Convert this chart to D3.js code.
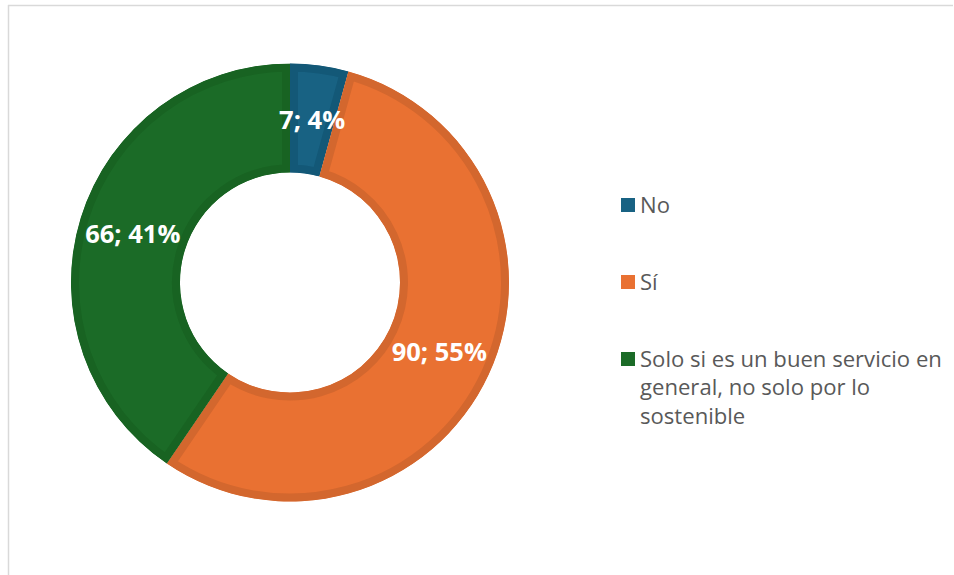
<!DOCTYPE html>
<html>
<head>
<meta charset="utf-8">
<script src="https://cdn.jsdelivr.net/npm/d3@7/dist/d3.min.js"></script>
<style>
  html, body { margin: 0; padding: 0; background: #fff; }
  svg { display: block; }
</style>
</head>
<body>
<svg id="chart" width="954" height="575"></svg>
<script>
// Answer categories and counts
const categories = ["No", "Sí", "Solo si es un buen servicio en general, no solo por lo sostenible"];
const counts = [7, 90, 66];
// Legend text, wrapped as shown
const legendLines = [["No"], ["Sí"], ["Solo si es un buen servicio en", "general, no solo por lo", "sostenible"]];
const fillColors = ["#186283", "#E97132", "#1B6B27"];
const edgeColors = ["#135877", "#D3672E", "#186322"];

const svg = d3.select("#chart");
const cx = 290, cy = 282.5, rOuter = 219, rInner = 110;

// Chart area frame (top and left edges)
svg.append("line").attr("x1", 8).attr("x2", 953).attr("y1", 5.5).attr("y2", 5.5)
  .attr("stroke", "#d9d9d9").attr("stroke-width", 1.5);
svg.append("line").attr("x1", 8.5).attr("x2", 8.5).attr("y1", 5).attr("y2", 575)
  .attr("stroke", "#d9d9d9").attr("stroke-width", 1.5);

// Whole-number percentages that add up to 100 (largest remainder)
const total = d3.sum(counts);
const raw = counts.map(v => v / total * 100);
const pct = raw.map(Math.floor);
let left = 100 - d3.sum(pct);
raw.map((r, i) => ({ i, rem: r - Math.floor(r) }))
  .sort((a, b) => b.rem - a.rem)
  .forEach(o => { if (left > 0) { pct[o.i] += 1; left--; } });

const data = categories.map((c, i) => ({ name: c, value: counts[i], pct: pct[i], i }));
const pie = d3.pie().value(d => d.value).sort(null);
const arcs = pie(data);
const arc = d3.arc().innerRadius(rInner).outerRadius(rOuter);
const labelArc = d3.arc().innerRadius((rInner + rOuter) / 2).outerRadius((rInner + rOuter) / 2);

const g = svg.append("g").attr("transform", `translate(${cx},${cy})`);
const defs = svg.append("defs");

arcs.forEach((a, k) => {
  const id = "clip-" + k;
  defs.append("clipPath").attr("id", id).append("path").attr("d", arc(a));
  g.append("path")
    .attr("d", arc(a))
    .attr("fill", fillColors[a.data.i])
    .attr("stroke", edgeColors[a.data.i])
    .attr("stroke-width", 16)
    .attr("stroke-linejoin", "miter")
    .attr("clip-path", `url(#${id})`);
});

// Value; percentage labels
g.selectAll("text.val")
  .data(arcs)
  .join("text")
  .attr("class", "val")
  .attr("transform", d => `translate(${labelArc.centroid(d)})`)
  .attr("text-anchor", "middle")
  .attr("dy", "0.36em")
  .attr("fill", "#fff")
  .attr("font-family", "'Open Sans', sans-serif")
  .attr("font-weight", "bold")
  .attr("font-size", 25.5)
  .text(d => `${d.data.value}; ${d.data.pct}%`);

// Legend
const legendY = [205, 282, 359];
const legend = svg.append("g");
legendLines.forEach((lines, i) => {
  legend.append("rect")
    .attr("x", 621).attr("y", legendY[i] - 7)
    .attr("width", 14).attr("height", 14)
    .attr("fill", fillColors[i]);
  const t = legend.append("text")
    .attr("x", 640).attr("y", legendY[i])
    .attr("fill", "#595959")
    .attr("font-family", "'Open Sans', sans-serif")
    .attr("font-size", 22.1);
  lines.forEach((ln, j) => {
    t.append("tspan").attr("x", 640).attr("dy", j === 0 ? "0.36em" : 28.5).text(ln);
  });
});
</script>
</body>
</html>
